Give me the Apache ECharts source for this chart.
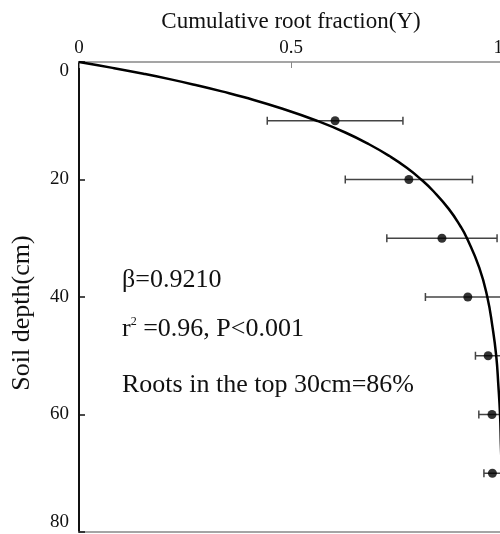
<!DOCTYPE html>
<html>
<head>
<meta charset="utf-8">
<script src="https://cdn.jsdelivr.net/npm/echarts@6/dist/echarts.min.js"></script>
<style>
  html, body { margin: 0; padding: 0; background: #fff; }
  #chart { width: 500px; height: 534px; }
</style>
</head>
<body>
<div id="chart"></div>
<script>
// fitted curve
var curveDepth = [0, 1, 2, 3, 4, 5, 6, 8, 10, 12, 14, 16, 18, 20, 22, 25, 28, 30, 35, 40, 45, 50, 55, 60, 65, 70, 75, 80];
var curveFrac = [0, 0.079, 0.152, 0.219, 0.280, 0.337, 0.390, 0.482, 0.561, 0.628, 0.684, 0.732, 0.773, 0.807, 0.836, 0.872, 0.900, 0.915, 0.944, 0.963, 0.975, 0.984, 0.989, 0.993, 0.995, 0.997, 0.998, 0.999];

// measured points with error bars
var obsDepth = [10, 20, 30, 40, 50, 60, 70];
var obsFrac = [0.604, 0.778, 0.856, 0.917, 0.965, 0.974, 0.975];
var obsErr = [0.16, 0.15, 0.13, 0.10, 0.03, 0.031, 0.02];

var xTicks = [0, 0.5, 1];
var yTicks = [0, 20, 40, 60, 80];

var font = 'Liberation Serif';

var curveData = curveDepth.map(function (d, i) { return [curveFrac[i], d]; });
var obsData = obsDepth.map(function (d, i) { return [obsFrac[i], d]; });
var errData = obsDepth.map(function (d, i) { return [obsFrac[i] - obsErr[i], obsFrac[i] + obsErr[i], d]; });

var chart = echarts.init(document.getElementById('chart'));

chart.setOption({
  animation: false,
  backgroundColor: '#fff',
  grid: { left: 79, top: 62, width: 424, height: 470, containLabel: false, outerBoundsMode: 'none' },
  xAxis: [{
    type: 'value',
    position: 'top',
    min: 0, max: 1, interval: 0.5,
    name: 'Cumulative root fraction(Y)',
    nameLocation: 'middle',
    nameGap: 29,
    nameTextStyle: { fontFamily: font, fontSize: 23, color: '#111' },
    axisLine: { show: true, lineStyle: { color: '#888', width: 1.5 } },
    axisTick: { show: true, inside: true, length: 6, lineStyle: { color: '#888' } },
    axisLabel: {
      fontFamily: font, fontSize: 19, color: '#111', margin: 4,
      showMinLabel: true, showMaxLabel: true, hideOverlap: false,
      alignMaxLabel: 'right',
      formatter: function (v) { return xTicks.indexOf(v) >= 0 ? String(v) : ''; }
    },
    splitLine: { show: false }
  }, {
    type: 'value',
    position: 'bottom',
    min: 0, max: 1,
    axisLine: { show: true, lineStyle: { color: '#888', width: 1.5 } },
    axisTick: { show: false },
    axisLabel: { show: false },
    splitLine: { show: false }
  }],
  yAxis: {
    type: 'value',
    inverse: true,
    min: 0, max: 80, interval: 20,
    axisLine: { show: true, lineStyle: { color: '#111', width: 2 } },
    axisTick: { show: true, inside: true, length: 6, lineStyle: { color: '#111', width: 1.5 } },
    axisLabel: {
      fontFamily: font, fontSize: 19, color: '#111', margin: 10,
      verticalAlignMinLabel: 'top', verticalAlignMaxLabel: 'bottom',
      formatter: function (v) { return yTicks.indexOf(v) >= 0 ? String(v) : ''; }
    },
    splitLine: { show: false }
  },
  series: [{
    type: 'line',
    data: curveData,
    smooth: true,
    showSymbol: false,
    lineStyle: { color: '#000', width: 2.5 },
    z: 3
  }, {
    type: 'custom',
    data: errData,
    clip: false,
    renderItem: function (params, api) {
      var y = api.coord([0, api.value(2)])[1];
      var x1 = api.coord([api.value(0), 0])[0];
      var x2 = api.coord([api.value(1), 0])[0];
      var h = 4;
      var style = { stroke: '#444', lineWidth: 1.5 };
      return {
        type: 'group',
        children: [
          { type: 'line', shape: { x1: x1, y1: y, x2: x2, y2: y }, style: style },
          { type: 'line', shape: { x1: x1, y1: y - h, x2: x1, y2: y + h }, style: style },
          { type: 'line', shape: { x1: x2, y1: y - h, x2: x2, y2: y + h }, style: style }
        ]
      };
    },
    z: 2
  }, {
    type: 'scatter',
    data: obsData,
    symbol: 'circle',
    symbolSize: 9,
    itemStyle: { color: '#000' },
    z: 4
  }],
  graphic: [{
    type: 'text', x: 22, y: 313, rotation: Math.PI / 2,
    style: { text: 'Soil depth(cm)', fontFamily: font, fontSize: 26, fill: '#111', align: 'center', verticalAlign: 'middle' }
  }, {
    type: 'text', left: 122, top: 267,
    style: { text: 'β=0.9210', fontFamily: font, fontSize: 26, fill: '#111' }
  }, {
    type: 'text', left: 122, top: 316,
    style: {
      text: '{a|r}{s|2}{a| =0.96, P<0.001}',
      rich: {
        a: { fontFamily: font, fontSize: 26, fill: '#111' },
        s: { fontFamily: font, fontSize: 12, fill: '#111', verticalAlign: 'top', padding: [0, 0, 10, 0] }
      }
    }
  }, {
    type: 'text', left: 122, top: 372,
    style: { text: 'Roots in the top 30cm=86%', fontFamily: font, fontSize: 26, fill: '#111' }
  }]
});
</script>
</body>
</html>
